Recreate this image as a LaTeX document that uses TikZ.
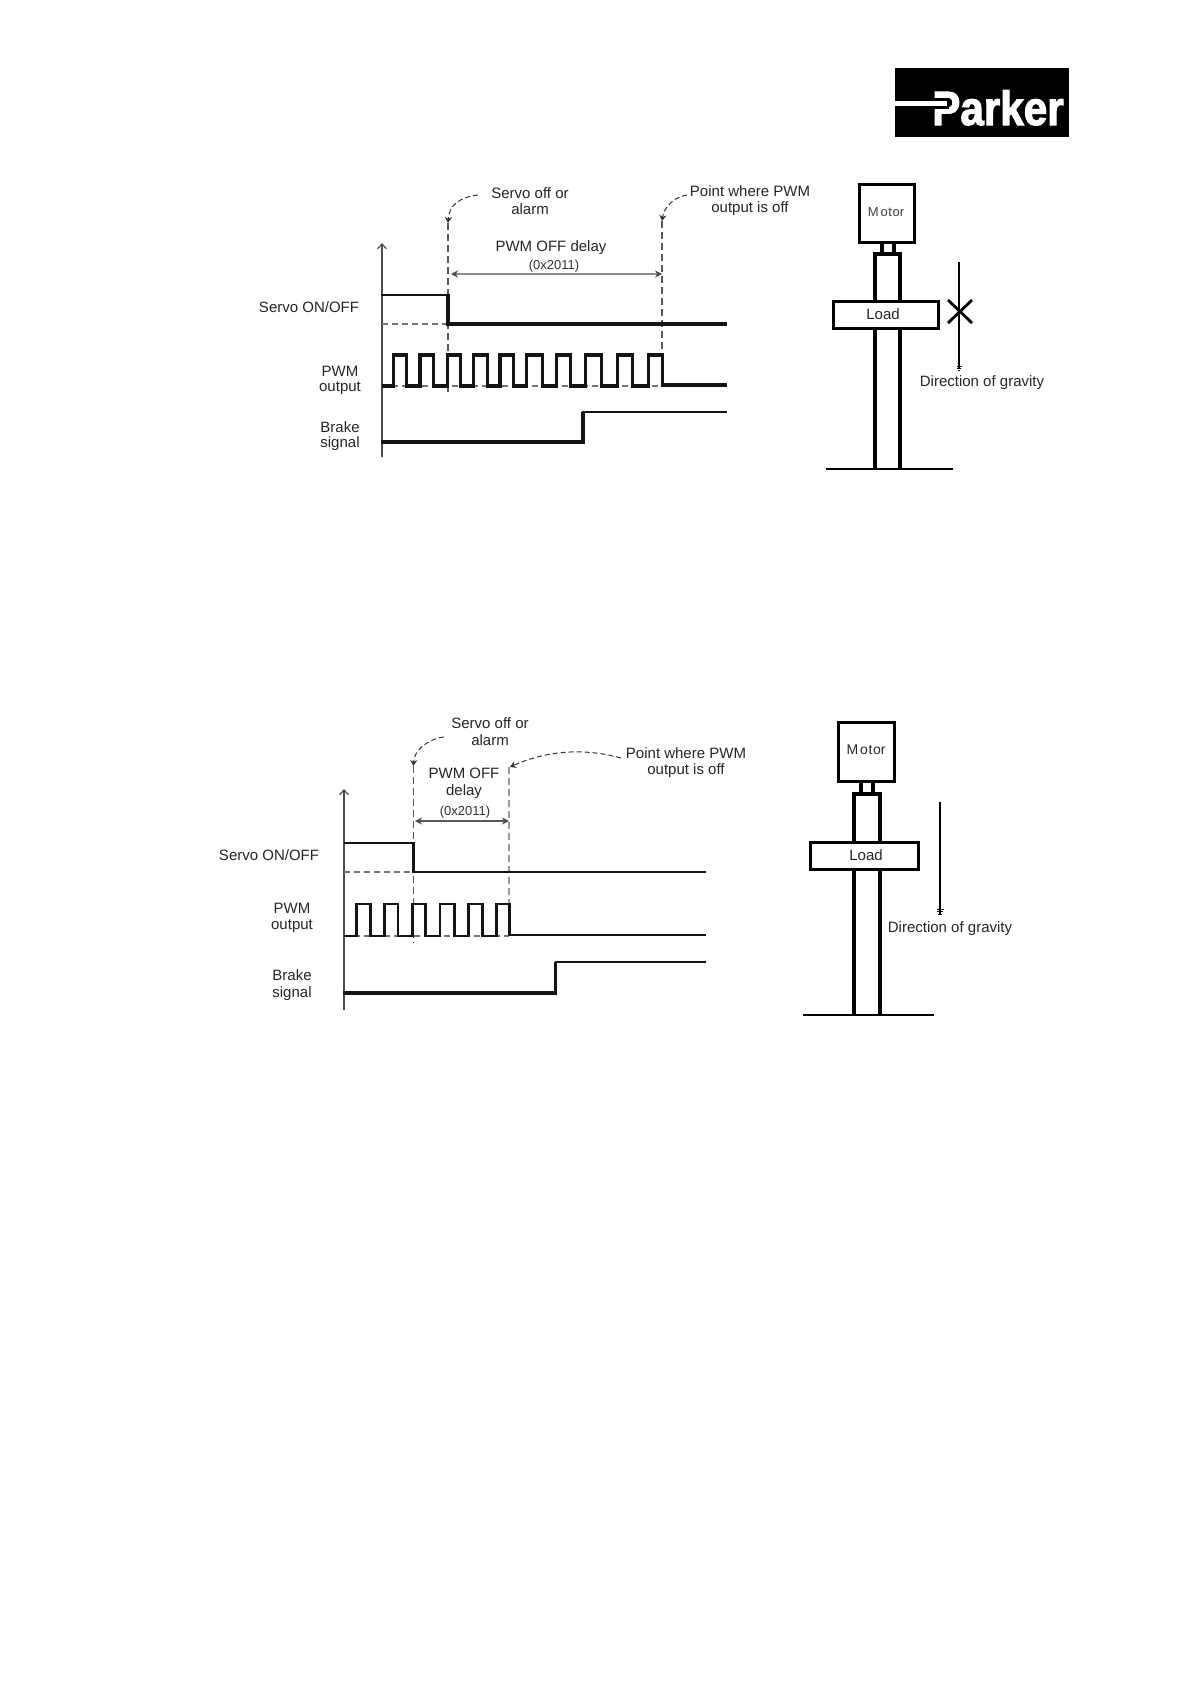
\documentclass[tikz,border=0pt]{standalone}
\usepackage{fontspec}
\setmainfont{Liberation Sans}
\newfontfamily\logoface[FakeBold=2.5]{Liberation Sans Bold}
\usetikzlibrary{arrows.meta}
\tikzset{
  lbl/.style={inner sep=0pt,text=black!85,font=\fontsize{15}{17}\selectfont,align=center},
  lblsmall/.style={inner sep=0pt,text=black!80,font=\fontsize{13}{15}\selectfont,align=center},
  sig/.style={line width=3.2pt,line join=miter,black!92},
  sigthin/.style={line width=2.4pt,black!92},
  axisline/.style={line width=1.2pt,black!70,-{Straight Barb[length=5pt,width=9pt]}},
  guide/.style={line width=1.1pt,black!65,dash pattern=on 7pt off 4pt},
  levelguide/.style={line width=1.1pt,black!55,dash pattern=on 6pt off 4pt},
  callout/.style={line width=1pt,black!80,dash pattern=on 5pt off 3pt,-{Stealth[length=6pt,width=7pt]}},
  span/.style={line width=1.1pt,black!45,{Stealth[length=7pt,width=7pt,black!70]}-{Stealth[length=7pt,width=7pt,black!70]}},
  box/.style={draw=black,line width=3.2pt,fill=white,inner sep=0pt,line join=miter},
  col/.style={line width=3.4pt,black},
  ground/.style={line width=2.2pt,black},
  grav/.style={line width=1.1pt,black},
}
\begin{document}
\begin{tikzpicture}[x=1pt,y=-1pt]
\useasboundingbox (0,0) rectangle (1191,1684);
\fill[white] (0,0) rectangle (1191,1684);

% logo
\node[fill=black,minimum width=174pt,minimum height=69pt,inner sep=0pt,anchor=north west] (logo) at (895,68) {};
\node[inner sep=0pt,text=white,anchor=base west] (logoword) at (932,125) {\fontsize{48}{48}\selectfont\logoface\scalebox{.88}[1]{Parker}};
\fill[black] (934,98) rectangle (949,109);
\fill[white] (895,101) rectangle (947,106);

% ---------- upper timing diagram ----------
\coordinate (a1t) at (382,243); \coordinate (a1b) at (382,457);
\draw[axisline] (a1b) -- (a1t);
\coordinate (g1a) at (448,223); \coordinate (g1ab) at (448,392);
\coordinate (g1b) at (662,221); \coordinate (g1bb) at (662,353);
\draw[guide] (g1a) -- (g1ab);
\draw[guide] (g1b) -- (g1bb);
\draw[levelguide] (382,324) -- (448,324);
\draw[levelguide] (382,386) -- (662,386);
\draw[line width=2.6pt,black!92] (381,295) -- (448,295);
\draw[line width=3.4pt,black!92] (448,294) -- (448,324) -- (727,324);
\draw[sig] (382,386) -- (393.3,386) -- (393.3,355) -- (406.7,355) -- (406.7,386) -- (420,386) -- (420,355) -- (433.3,355) -- (433.3,386) -- (447.3,386) -- (447.3,355) -- (460.7,355) -- (460.7,386) -- (473.3,386) -- (473.3,355) -- (487.3,355) -- (487.3,386) -- (500,386) -- (500,355) -- (513.3,355) -- (513.3,386) -- (526.7,386) -- (526.7,355) -- (542.7,355) -- (542.7,386) -- (556.7,386) -- (556.7,355) -- (570.7,355) -- (570.7,386) -- (585.7,386) -- (585.7,355) -- (601.7,355) -- (601.7,386) -- (617.7,386) -- (617.7,355) -- (632.3,355) -- (632.3,386) -- (648.3,386) -- (648.3,355) -- (662.3,355) -- (662.3,385) -- (727,385);
\draw[sig] (381,442) -- (583,442) -- (583,412);
\draw[sigthin] (582,412) -- (727,412);
\coordinate (sp1a) at (451,274); \coordinate (sp1b) at (662,274);
\draw[span] (sp1a) -- (sp1b);
\node[lbl] (t1a) at (530,193) {Servo off or};
\node[lbl] (t1b) at (530,209) {alarm};
\node[lbl] (t1c) at (750,191) {Point where PWM};
\node[lbl] (t1d) at (750,209) {output is off};
\node[lbl] (t1e) at (551,248) {PWM OFF delay};
\node[lblsmall] (t1f) at (554,266) {(0x2011)};
\node[lbl] (t1g) at (309,307) {Servo ON/OFF};
\node[lbl] (t1h) at (340,371) {PWM};
\node[lbl] (t1i) at (340,388) {output};
\node[lbl] (t1j) at (340,427) {Brake};
\node[lbl] (t1k) at (340,444) {signal};
\coordinate (c1a) at (478,195); \coordinate (c1b) at (687,195);
\draw[callout] (c1a) .. controls (460,197) and (449,205) .. (g1a);
\draw[callout] (c1b) .. controls (674,197) and (664,207) .. (g1b);

% ---------- upper mechanism ----------
\draw[col] (882,241) -- (882,255);
\draw[col] (894,241) -- (894,255);
\draw[col] (875,469) -- (875,254) -- (900,254) -- (900,469);
\node[box,minimum width=55pt,minimum height=58pt,anchor=north west] (m1) at (858,183) {};
\node[inner sep=0pt,text=black!75,font=\fontsize{13}{15}\selectfont] (m1t) at (886,212) {M\hspace{2pt}o\hspace{.6pt}t\hspace{.6pt}or};
\node[box,minimum width=105pt,minimum height=27pt,anchor=north west] (l1) at (832,299.5) {};
\node[lbl] (l1t) at (883,314) {Load};
\draw[ground] (826,469) -- (953,469);
\coordinate (gr1a) at (959,262); \coordinate (gr1b) at (959,368);
\draw[grav] (gr1a) -- (gr1b);
\draw[line width=1pt] (956.5,366) -- (961.5,366) (957,368) -- (961,368) (958,370) -- (960,370);
\draw[line width=2.8pt] (948,300) -- (972,323) (972,300) -- (948,323);
\node[lbl] (t1l) at (982,383) {Direction of gravity};

% ---------- lower timing diagram ----------
\coordinate (a2t) at (344,789); \coordinate (a2b) at (344,1010);
\draw[axisline] (a2b) -- (a2t);
\coordinate (g2a) at (413.5,766); \coordinate (g2ab) at (413.5,943);
\coordinate (g2b) at (509,767); \coordinate (g2bb) at (509,903);
\draw[guide] (g2a) -- (g2ab);
\draw[guide,black!40] (g2b) -- (g2bb);
\draw[levelguide] (344,872) -- (413.5,872);
\draw[levelguide] (344,936) -- (509,936);
\draw[line width=2.8pt,black!92] (344,843) -- (413.5,843);
\draw[line width=2.6pt,black!92] (413.5,842) -- (413.5,872) -- (705.5,872);
\draw[sig,line width=2.9pt] (344,936) -- (356.7,936) -- (356.7,904) -- (370.5,904) -- (370.5,936) -- (384.2,936) -- (384.2,904) -- (398,904) -- (398,936) -- (412.8,936) -- (412.8,904) -- (425.6,904) -- (425.6,936) -- (440,936) -- (440,904) -- (454.1,904) -- (454.1,936) -- (468.6,936) -- (468.6,904) -- (482.4,904) -- (482.4,936) -- (496.1,936) -- (496.1,904) -- (509.2,904) -- (509.2,935) -- (705.5,935);
\draw[sig] (343,993) -- (555.5,993) -- (555.5,962);
\draw[sigthin] (554.5,962) -- (705.5,962);
\coordinate (sp2a) at (415,821); \coordinate (sp2b) at (509,821);
\draw[span,black!65] (sp2a) -- (sp2b);
\node[lbl] (t2a) at (490,723) {Servo off or};
\node[lbl] (t2b) at (490,740) {alarm};
\node[lbl] (t2c) at (686,753) {Point where PWM};
\node[lbl] (t2d) at (686,771) {output is off};
\node[lbl] (t2e) at (464,773) {PWM OFF};
\node[lbl] (t2f) at (464,792) {delay};
\node[lblsmall] (t2g) at (465,812) {(0x2011)};
\node[lbl] (t2h) at (269,855) {Servo ON/OFF};
\node[lbl] (t2i) at (292,908) {PWM};
\node[lbl] (t2j) at (292,926) {output};
\node[lbl] (t2k) at (292,975) {Brake};
\node[lbl] (t2l) at (292,994) {signal};
\coordinate (c2a) at (443.8,737); \coordinate (c2b) at (621,758);
\draw[callout] (c2a) .. controls (428,739) and (414,750) .. (g2a);
\draw[callout] (c2b) .. controls (585,748) and (548,750) .. (510,767);

% ---------- lower mechanism ----------
\draw[col] (861,780) -- (861,795);
\draw[col] (873,780) -- (873,795);
\draw[col] (854,1015) -- (854,794) -- (880,794) -- (880,1015);
\node[box,minimum width=56pt,minimum height=59pt,anchor=north west] (m2) at (837,721) {};
\node[inner sep=0pt,text=black!85,font=\fontsize{14}{16}\selectfont] (m2t) at (866,750) {M\hspace{2pt}o\hspace{.6pt}t\hspace{.6pt}or};
\node[box,minimum width=108pt,minimum height=27pt,anchor=north west] (l2) at (809,841) {};
\node[lbl] (l2t) at (866,855) {Load};
\draw[ground] (803,1015) -- (934,1015);
\coordinate (gr2a) at (940,802); \coordinate (gr2b) at (940,915);
\draw[grav] (gr2a) -- (gr2b);
\draw[line width=1pt] (936.5,909) -- (943.5,909) (937,911.5) -- (943,911.5) (938,914) -- (942,914);
\node[lbl] (t2m) at (950,929) {Direction of gravity};
\end{tikzpicture}
\end{document}
